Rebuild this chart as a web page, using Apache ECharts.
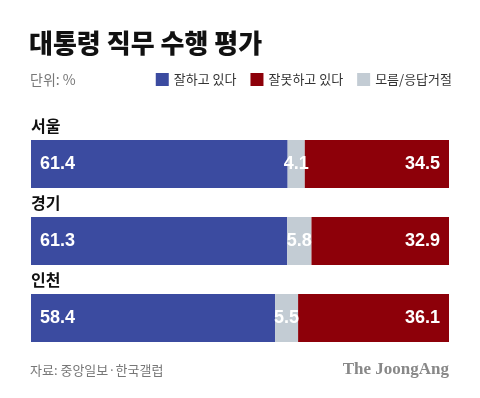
<!DOCTYPE html>
<html>
<head>
<meta charset="utf-8">
<script src="https://cdn.jsdelivr.net/npm/echarts@6/dist/echarts.min.js"></script>
<style>
  html, body { margin: 0; padding: 0; background: #fff; }
  #main { width: 480px; height: 398px; }
</style>
</head>
<body>
<div id="main"></div>
<script>
// 지역별 데이터
var regions = ['서울', '경기', '인천'];
var good = [61.4, 61.3, 58.4];      // 잘하고 있다
var unknown = [4.1, 5.8, 5.5];      // 모름/응답거절
var bad = [34.5, 32.9, 36.1];       // 잘못하고 있다

var KR = '"Noto Sans CJK KR", "Noto Sans", sans-serif';
var NUM = '"Liberation Sans", Arial, sans-serif';

var myChart = echarts.init(document.getElementById('main'));

function seg(name, data, color, pos) {
    return {
        name: name,
        type: 'bar',
        stack: 'all',
        barWidth: 48,
        data: data,
        itemStyle: { color: color },
        label: {
            show: true,
            position: pos,
            distance: 9,
            color: '#fff',
            fontFamily: NUM,
            fontWeight: 'bold',
            fontSize: 18,
            formatter: function (p) { return p.value.toFixed(1); }
        },
        emphasis: { disabled: true }
    };
}

myChart.setOption({
    animation: false,
    title: [{
        text: '대통령 직무 수행 평가',
        left: 29, top: 28, padding: 0,
        textStyle: { fontFamily: KR, fontWeight: 900, fontSize: 26, color: '#111', lineHeight: 30 }
    }, {
        text: '단위: %',
        left: 30, top: 71, padding: 0,
        textStyle: { fontFamily: KR, fontWeight: 'normal', fontSize: 14, color: '#777', lineHeight: 18 }
    }, {
        text: '자료: 중앙일보·한국갤럽',
        left: 30, top: 361, padding: 0,
        textStyle: { fontFamily: KR, fontWeight: 'normal', fontSize: 13, color: '#777', lineHeight: 18 }
    }, {
        text: 'The JoongAng',
        right: 31, top: 360, padding: 0,
        textStyle: { fontFamily: '"Liberation Serif", "DejaVu Serif", serif', fontWeight: 'bold', fontSize: 17, color: '#888', lineHeight: 20 }
    }],
    legend: {
        right: 28, top: 73, padding: 0,
        itemWidth: 13, itemHeight: 13, itemGap: 14, itemTextGap: 5,
        icon: 'rect',
        data: ['잘하고 있다', '잘못하고 있다', '모름/응답거절'],
        textStyle: { fontFamily: KR, fontSize: 13, color: '#333' }
    },
    grid: { left: 31, right: 31, top: 125.5, height: 231, containLabel: false },
    xAxis: {
        type: 'value', min: 0, max: 100, show: false
    },
    yAxis: {
        type: 'category',
        inverse: true,
        data: regions,
        axisLine: { show: false },
        axisTick: { show: false },
        axisLabel: {
            inside: true,
            margin: 0,
            align: 'left',
            verticalAlign: 'bottom',
            padding: [0, 0, 30, 0],
            fontFamily: KR,
            fontWeight: 'bold',
            fontSize: 16,
            color: '#111'
        }
    },
    series: [
        seg('잘하고 있다', good, '#3b4ba0', 'insideLeft'),
        seg('모름/응답거절', unknown, '#c3ccd4', 'inside'),
        seg('잘못하고 있다', bad, '#8d0009', 'insideRight')
    ]
});
</script>
</body>
</html>
